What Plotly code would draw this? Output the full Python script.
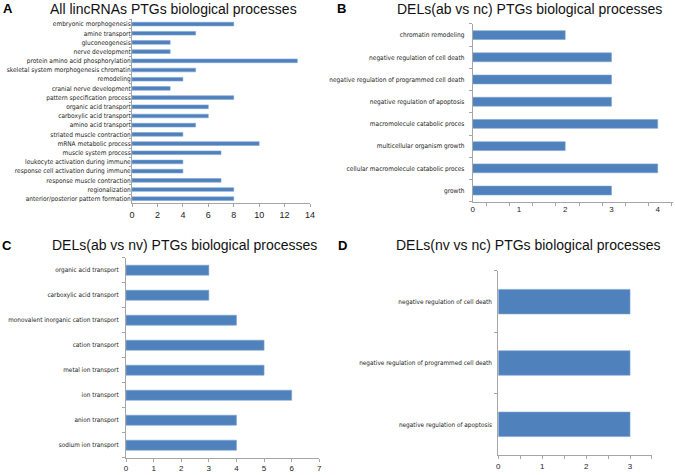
import plotly.graph_objects as go

# ---------------- data ----------------
a_cats = ["embryonic morphogenesis", "amine transport", "gluconeogenesis", "nerve development",
          "protein amino acid phosphorylation", "skeletal system morphogenesis chromatin",
          "remodeling", "cranial nerve development", "pattern specification process",
          "organic acid transport", "carboxylic acid transport", "amino acid transport",
          "striated muscle contraction", "mRNA metabolic process", "muscle system process",
          "leukocyte activation during immune", "response cell activation during immune",
          "response muscle contraction", "regionalization", "anterior/posterior pattern formation"]
a_vals = [8, 5, 3, 3, 13, 5, 4, 3, 8, 6, 6, 5, 4, 10, 7, 4, 4, 7, 8, 8]

b_cats = ["chromatin remodeling", "negative regulation of cell death",
          "negative regulation of programmed cell death", "negative regulation of apoptosis",
          "macromolecule catabolic proces", "multicellular organism growth",
          "cellular macromolecule catabolic proces", "growth"]
b_vals = [2, 3, 3, 3, 4, 2, 4, 3]

c_cats = ["organic acid transport", "carboxylic acid transport",
          "monovalent inorganic cation transport", "cation transport", "metal ion transport",
          "ion transport", "anion transport", "sodium ion transport"]
c_vals = [3, 3, 4, 5, 5, 6, 4, 4]

d_cats = ["negative regulation of cell death", "negative regulation of programmed cell death",
          "negative regulation of apoptosis"]
d_vals = [3, 3, 3]

titles = ["All lincRNAs PTGs biological processes",
          "DELs(ab vs nc) PTGs biological processes",
          "DELs(ab vs nv) PTGs biological processes",
          "DELs(nv vs nc) PTGs biological processes"]
letters = ["A", "B", "C", "D"]

a_ticks = list(range(0, 15, 2))
b_ticks = [0, 1, 2, 3, 4]
b_minor = [0.3, 0.8, 1.3, 1.8, 2.3, 2.8, 3.3, 3.8, 4.3]
c_ticks = list(range(0, 8))
d_ticks = [0, 0.5, 1, 1.5, 2, 2.5, 3, 3.5]
d_text = ["0", "", "1", "", "2", "", "3", ""]

# ---------------- style ----------------
BAR = "#4F81BD"
EDGE = "#7EA3D0"
AXC = "#A6A6A6"
LBL = "DejaVu Sans Condensed, Liberation Sans, Arial, sans-serif"
ARIAL = "Liberation Sans, Arial, sans-serif"

fig = go.Figure()

def add(cats, vals, xa, ya):
    fig.add_trace(go.Bar(x=vals, y=cats, orientation="h", width=0.4,
                         marker=dict(color=BAR, line=dict(color=EDGE, width=0.6)),
                         xaxis=xa, yaxis=ya, showlegend=False))

add(a_cats, a_vals, "x", "y")
add(b_cats, b_vals, "x2", "y2")
add(c_cats, c_vals, "x3", "y3")
add(d_cats, d_vals, "x4", "y4")

def yax(domain, anchor, cats, size, standoff, ticklen=3):
    return dict(domain=domain, anchor=anchor, autorange="reversed", type="category",
                tickmode="array", tickvals=cats,
                showline=True, linecolor=AXC, linewidth=1, ticks="outside",
                tickson="boundaries", ticklen=ticklen, tickcolor=AXC, automargin=False,
                tickfont=dict(family=LBL, size=size, color="#222222"),
                ticklabelstandoff=standoff, showgrid=False, zeroline=False)

def xax(domain, anchor, rng, tickvals, ticktext=None, size=9, ticks="outside", minor=None):
    d = dict(domain=domain, anchor=anchor, range=rng, tickmode="array", tickvals=tickvals,
             showline=True, linecolor=AXC, linewidth=1, ticks=ticks, ticklen=3,
             tickcolor=AXC, tickfont=dict(family=ARIAL, size=size, color="#222222"),
             showgrid=False, zeroline=False, automargin=False)
    if ticktext is not None:
        d["ticktext"] = ticktext
    if minor is not None:
        d["minor"] = minor
    return d

fig.update_layout(
    width=675, height=475, margin=dict(l=0, r=0, t=0, b=0),
    paper_bgcolor="white", plot_bgcolor="white", bargap=0.6,
    xaxis=xax([0.1956, 0.4593], "y", [0, 14], a_ticks, size=9),
    yaxis=yax([0.572, 0.959], "x", a_cats, 6.5, -1, 2),
    xaxis2=xax([0.7003, 0.997], "y2", [0, 4.33], b_ticks, size=8, ticks="",
               minor=dict(tickvals=b_minor, ticks="outside", ticklen=3, tickcolor=AXC)),
    yaxis2=yax([0.5755, 0.9495], "x2", b_cats, 6.5, 6),
    xaxis3=xax([0.1867, 0.4730], "y3", [0, 7], c_ticks, size=8),
    yaxis3=yax([0.0364, 0.4575], "x3", c_cats, 6.4, 5),
    xaxis4=xax([0.7382, 0.9659], "y4", [0, 3.5], d_ticks, d_text, size=8),
    yaxis4=yax([0.0421, 0.4295], "x4", d_cats, 6.4, 4),
)

title_pos = [(173, 9), (529, 9), (184, 245), (528, 245)]
letter_pos = [(8, 9), (341, 9), (7, 245), (342, 245)]
for t, (x, y) in zip(titles, title_pos):
    fig.add_annotation(text=t, x=x / 675, y=1 - y / 475, xref="paper", yref="paper",
                       showarrow=False, xanchor="center", yanchor="middle",
                       font=dict(family=ARIAL, size=14, color="#111111"))
for t, (x, y) in zip(letters, letter_pos):
    fig.add_annotation(text="<b>" + t + "</b>", x=x / 675, y=1 - y / 475, xref="paper",
                       yref="paper", showarrow=False, xanchor="center", yanchor="middle",
                       font=dict(family=ARIAL, size=13, color="#000000"))

fig.write_html("out.html", config={"displayModeBar": False},
               post_script="document.body.style.margin='0';")
